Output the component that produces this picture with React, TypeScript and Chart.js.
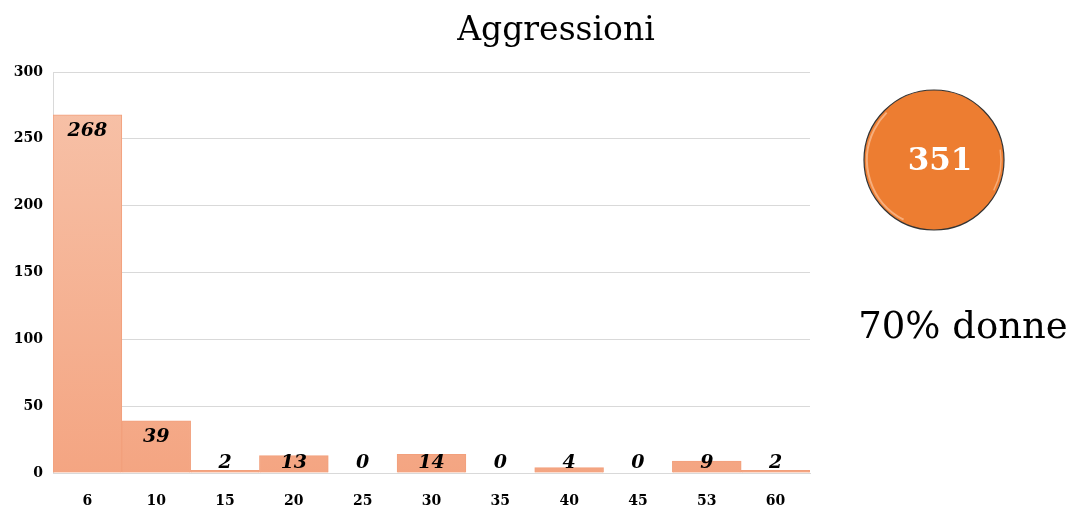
import React, { useEffect, useRef } from "react";
import { Chart, registerables } from "chart.js";

Chart.register(...registerables);

const categories = ["6", "10", "15", "20", "25", "30", "35", "40", "45", "53", "60"];
const values = [268, 39, 2, 13, 0, 14, 0, 4, 0, 9, 2];
const yTicks = [0, 50, 100, 150, 200, 250, 300];
const chartTitle = "Aggressioni";
const totalLabel = "351";
const shareLabel = "70% donne";

const SERIF = "'DejaVu Serif', 'Liberation Serif', serif";

const overlayPlugin = {
  id: "overlay",
  afterDatasetsDraw(chart: any) {
    const ctx = chart.ctx as CanvasRenderingContext2D;
    const meta = chart.getDatasetMeta(0);
    const yScale = chart.scales.y;
    const base = yScale.getPixelForValue(0);
    ctx.save();
    ctx.fillStyle = "#000";
    ctx.font = `italic bold 19px ${SERIF}`;
    ctx.textAlign = "center";
    ctx.textBaseline = "middle";
    meta.data.forEach((bar: any, i: number) => {
      const y = Math.min(bar.y + 16, base - 10);
      ctx.fillText(String(values[i]), bar.x, y);
    });
    ctx.restore();
  },
  afterDraw(chart: any) {
    const ctx = chart.ctx as CanvasRenderingContext2D;
    ctx.save();
    // title
    ctx.fillStyle = "#000";
    ctx.font = `33px ${SERIF}`;
    ctx.textAlign = "center";
    ctx.textBaseline = "middle";
    ctx.fillText(chartTitle, 556, 31);

    // circle
    const cx = 934, cy = 160, r = 70;
    ctx.beginPath();
    ctx.arc(cx, cy, r, 0, Math.PI * 2);
    ctx.fillStyle = "#ED7D31";
    ctx.fill();
    ctx.lineWidth = 1.2;
    ctx.strokeStyle = "#333";
    ctx.stroke();
    // soft highlight ring
    ctx.beginPath();
    ctx.arc(cx, cy, r - 3, Math.PI * 0.65, Math.PI * 1.25);
    ctx.strokeStyle = "rgba(255,215,185,0.55)";
    ctx.lineWidth = 2;
    ctx.stroke();
    ctx.beginPath();
    ctx.arc(cx, cy, r - 3, -Math.PI * 0.05, Math.PI * 0.15);
    ctx.strokeStyle = "rgba(255,215,185,0.5)";
    ctx.lineWidth = 1.5;
    ctx.stroke();

    ctx.fillStyle = "#fff";
    ctx.font = `bold 31px ${SERIF}`;
    ctx.fillText(totalLabel, cx + 6, cy + 2);

    ctx.fillStyle = "#000";
    ctx.font = `37px ${SERIF}`;
    ctx.fillText(shareLabel, 963, 328);
    ctx.restore();
  },
};

export default function App() {
  const ref = useRef<HTMLCanvasElement | null>(null);
  useEffect(() => {
    if (!ref.current) return;
    const chart = new Chart(ref.current, {
      type: "bar",
      data: {
        labels: categories,
        datasets: [
          {
            data: values,
            backgroundColor: (c: any) => {
              const area = c.chart.chartArea;
              if (!area) return "#F4A582";
              const g = c.chart.ctx.createLinearGradient(0, area.top, 0, area.bottom);
              g.addColorStop(0, "#F7C3AA");
              g.addColorStop(1, "#F4A582");
              return g;
            },
            borderColor: "#F2A07C",
            borderWidth: 1,
            barPercentage: 1,
            categoryPercentage: 1,
          },
        ],
      },
      options: {
        animation: false,
        responsive: false,
        maintainAspectRatio: false,
        layout: { padding: { left: 8, right: 265, top: 72, bottom: 0 } },
        plugins: {
          legend: { display: false },
          title: { display: false },
          tooltip: { enabled: false },
        },
        scales: {
          x: {
            afterFit: (s: any) => {
              s.height = 41;
            },
            grid: { display: false, drawTicks: false },
            border: { display: true, color: "#D9D9D9" },
            ticks: {
              padding: 20,
              color: "#000",
              font: { family: SERIF, weight: "bold", size: 14 },
            },
          },
          y: {
            min: 0,
            max: 300,
            afterFit: (s: any) => {
              s.width = 45;
            },
            afterBuildTicks: (s: any) => {
              s.ticks = yTicks.map((v) => ({ value: v }));
            },
            grid: { color: "#D9D9D9", drawTicks: false },
            border: { display: true, color: "#D9D9D9" },
            ticks: {
              padding: 10,
              color: "#000",
              font: { family: SERIF, weight: "bold", size: 14 },
            },
          },
        },
      },
      plugins: [overlayPlugin],
    });
    return () => chart.destroy();
  }, []);
  return (
    <div style={{ position: "fixed", left: 0, top: 0, width: 1075, height: 514, background: "#fff" }}>
      <canvas ref={ref} width={1075} height={514} style={{ width: 1075, height: 514, display: "block" }} />
    </div>
  );
}
